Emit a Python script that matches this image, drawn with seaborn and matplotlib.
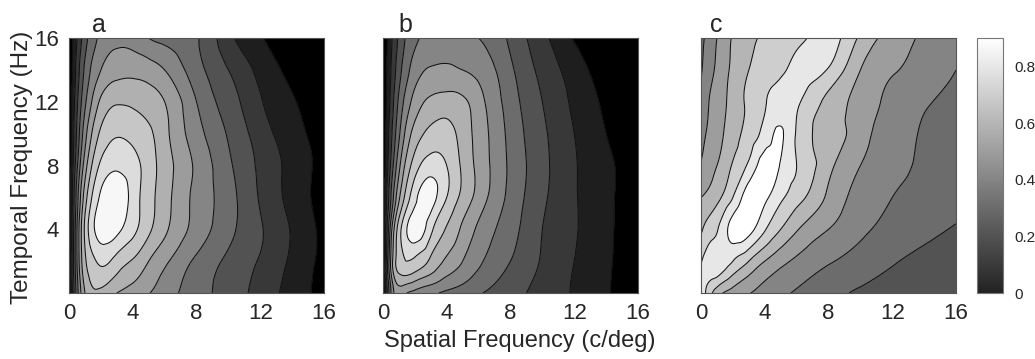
import numpy as np
import matplotlib
matplotlib.use("Agg")
import matplotlib.pyplot as plt
import matplotlib.tri as mtri
from matplotlib.colors import LinearSegmentedColormap, Normalize
from matplotlib.cm import ScalarMappable
import seaborn as sns

# Sampling grid: spatial frequency (c/deg) columns, temporal frequency (Hz) rows
spatial_freq = [0, 0.5, 1, 1.5, 2, 3, 4, 5, 6, 8, 10, 12, 14, 16]
temporal_freq = [0, 2, 4, 6, 8, 10, 12, 14, 16]

# Panel a: sensitivity surface (rows follow temporal_freq)
sens_a = [
    [0, 0.45, 0.70, 0.78, 0.77, 0.70, 0.655, 0.605, 0.55, 0.44, 0.36, 0.26, 0.16, 0.06],
    [0, 0.50, 0.78, 0.88, 0.92, 0.86, 0.79, 0.70, 0.62, 0.48, 0.38, 0.29, 0.18, 0.07],
    [0, 0.50, 0.82, 0.98, 1.05, 1.03, 0.93, 0.82, 0.72, 0.56, 0.43, 0.31, 0.19, 0.07],
    [0, 0.45, 0.75, 0.92, 1.02, 1.08, 0.96, 0.84, 0.74, 0.57, 0.44, 0.29, 0.165, 0.05],
    [0, 0.38, 0.65, 0.82, 0.92, 0.98, 0.94, 0.85, 0.75, 0.58, 0.42, 0.28, 0.165, 0.06],
    [0, 0.32, 0.56, 0.72, 0.82, 0.89, 0.87, 0.82, 0.73, 0.54, 0.39, 0.25, 0.14, 0.05],
    [0, 0.28, 0.48, 0.62, 0.72, 0.79, 0.78, 0.75, 0.70, 0.50, 0.35, 0.21, 0.11, 0.03],
    [0, 0.24, 0.42, 0.53, 0.60, 0.66, 0.67, 0.65, 0.60, 0.44, 0.30, 0.17, 0.07, 0.00],
    [0, 0.20, 0.36, 0.46, 0.53, 0.58, 0.56, 0.50, 0.47, 0.41, 0.23, 0.11, 0.02, 0.00],
]

# Panel b
sens_b = [
    [0, 0.50, 0.66, 0.60, 0.57, 0.52, 0.48, 0.45, 0.41, 0.34, 0.26, 0.19, 0.11, 0.05],
    [0, 0.62, 0.85, 0.90, 0.88, 0.78, 0.68, 0.60, 0.52, 0.40, 0.29, 0.20, 0.115, 0.05],
    [0, 0.55, 0.85, 1.00, 1.06, 0.93, 0.79, 0.68, 0.58, 0.44, 0.30, 0.21, 0.12, 0.05],
    [0, 0.40, 0.68, 0.85, 0.97, 1.04, 0.90, 0.77, 0.66, 0.47, 0.32, 0.21, 0.12, 0.05],
    [0, 0.32, 0.57, 0.74, 0.85, 0.95, 0.90, 0.78, 0.67, 0.48, 0.33, 0.21, 0.12, 0.05],
    [0, 0.27, 0.48, 0.64, 0.74, 0.83, 0.84, 0.76, 0.66, 0.47, 0.32, 0.20, 0.10, 0.03],
    [0, 0.23, 0.42, 0.55, 0.64, 0.72, 0.74, 0.72, 0.64, 0.45, 0.30, 0.18, 0.08, 0.01],
    [0, 0.20, 0.36, 0.47, 0.55, 0.61, 0.62, 0.60, 0.57, 0.42, 0.27, 0.15, 0.05, 0.00],
    [0, 0.18, 0.32, 0.42, 0.48, 0.52, 0.53, 0.52, 0.50, 0.38, 0.23, 0.09, 0.02, 0.00],
]

# Panel c (same scale as the colour bar, 0 to 0.9)
sens_c = [
    [0.86, 0.75, 0.64, 0.59, 0.56, 0.505, 0.46, 0.42, 0.39, 0.335, 0.285, 0.26, 0.23, 0.20],
    [0.79, 0.86, 0.88, 0.85, 0.80, 0.70, 0.60, 0.53, 0.48, 0.41, 0.36, 0.31, 0.27, 0.24],
    [0.69, 0.74, 0.79, 0.87, 0.94, 0.94, 0.81, 0.70, 0.61, 0.50, 0.42, 0.37, 0.33, 0.29],
    [0.60, 0.63, 0.67, 0.73, 0.80, 0.96, 0.93, 0.82, 0.74, 0.58, 0.46, 0.40, 0.37, 0.34],
    [0.51, 0.56, 0.60, 0.65, 0.71, 0.82, 0.96, 0.89, 0.80, 0.63, 0.50, 0.43, 0.385, 0.36],
    [0.46, 0.52, 0.56, 0.61, 0.66, 0.74, 0.84, 0.91, 0.79, 0.66, 0.54, 0.45, 0.39, 0.37],
    [0.42, 0.50, 0.55, 0.59, 0.64, 0.72, 0.79, 0.85, 0.82, 0.67, 0.56, 0.47, 0.41, 0.385],
    [0.39, 0.46, 0.52, 0.575, 0.62, 0.70, 0.74, 0.78, 0.83, 0.79, 0.60, 0.51, 0.45, 0.40],
    [0.37, 0.44, 0.50, 0.56, 0.61, 0.68, 0.71, 0.73, 0.76, 0.84, 0.68, 0.56, 0.48, 0.43],
]

panel_labels = ["a", "b", "c"]
xticks = [0, 4, 8, 12, 16]
yticks = [4, 8, 12, 16]
cbar_ticks = [0, 0.2, 0.4, 0.6, 0.8]
cbar_ticklabels = ["0", "0.2", "0.4", "0.6", "0.8"]

sns.set_theme(style="white")
plt.rcParams["font.family"] = ["Liberation Sans", "DejaVu Sans"]

fig = plt.figure(figsize=(10.35, 3.59), dpi=100)

ax_w, ax_h, ax_b = 0.2464, 0.710, 0.1838
lefts = [0.0667, 0.370, 0.6773]
axes = [fig.add_axes([l, ax_b, ax_w, ax_h]) for l in lefts]

gray_c = LinearSegmentedColormap.from_list("gray_c", ["#222222", "#ffffff"])

X, Y = np.meshgrid(spatial_freq, temporal_freq)
base_tri = mtri.Triangulation(X.ravel(), Y.ravel())
refiner = mtri.UniformTriRefiner(base_tri)


def draw_panel(ax, z, levels, band_colors, line_levels):
    tri_f, z_f = refiner.refine_field(np.asarray(z, float).ravel(), subdiv=4)
    ax.tricontourf(tri_f, z_f, levels=levels, colors=band_colors)
    ax.tricontour(tri_f, z_f, levels=line_levels, colors="#111111",
                  linewidths=0.75)


# a and b: bands every 0.1, black below 0.1, near-white above 1.0
levels_ab = [-1.0] + [round(0.1 * i, 1) for i in range(1, 11)] + [2.0]
grays_ab = [0x00, 0x1e, 0x38, 0x52, 0x6c, 0x85, 0x9c, 0xb0, 0xc6, 0xdc, 0xf7]
colors_ab = ["#{0:02x}{0:02x}{0:02x}".format(g) for g in grays_ab]
draw_panel(axes[0], sens_a, levels_ab, colors_ab, levels_ab[1:-1])
draw_panel(axes[1], sens_b, levels_ab, colors_ab, levels_ab[1:-1])

# c: bands coloured by their lower bound on the 0-0.9 colour scale
levels_c = [round(0.1 * i, 1) for i in range(0, 10)] + [2.0]
colors_c = [gray_c(min(lv / 0.9, 1.0)) for lv in levels_c[:-1]]
draw_panel(axes[2], sens_c, levels_c, colors_c, levels_c[1:-1])

for i, ax in enumerate(axes):
    ax.set_xlim(0, 16)
    ax.set_ylim(0, 16)
    ax.set_xticks(xticks)
    ax.set_xticklabels([str(t) for t in xticks], fontsize=16)
    if i == 0:
        ax.set_yticks(yticks)
        ax.set_yticklabels([str(t) for t in yticks], fontsize=16)
    else:
        ax.set_yticks([])
    ax.tick_params(length=0, pad=7)
    for s in ax.spines.values():
        s.set_color("#555555")
        s.set_linewidth(0.8)

letter_x = [0.089, 0.385, 0.686]
for lx, lab in zip(letter_x, panel_labels):
    fig.text(lx, 0.912, lab, fontsize=18, va="baseline", ha="left")

fig.text(0.502, 0.05, "Spatial Frequency (c/deg)", fontsize=17,
         ha="center", va="center")
fig.text(0.021, 0.535, "Temporal Frequency (Hz)", fontsize=17.5,
         ha="center", va="center", rotation=90)

cax = fig.add_axes([0.944, ax_b, 0.0251, ax_h])
sm = ScalarMappable(norm=Normalize(vmin=0, vmax=0.9), cmap=gray_c)
cb = fig.colorbar(sm, cax=cax)
cb.set_ticks(cbar_ticks)
cb.set_ticklabels(cbar_ticklabels)
cb.ax.tick_params(labelsize=11, length=0, pad=8)
cb.ax.set_yticks(np.arange(0.1, 0.9, 0.1), minor=True)
cb.ax.tick_params(which="minor", length=2.5, direction="in", left=True,
                  right=True, color="#999999")
cb.outline.set_edgecolor("#777777")
cb.outline.set_linewidth(0.8)

fig.savefig("out.png", dpi=100)
